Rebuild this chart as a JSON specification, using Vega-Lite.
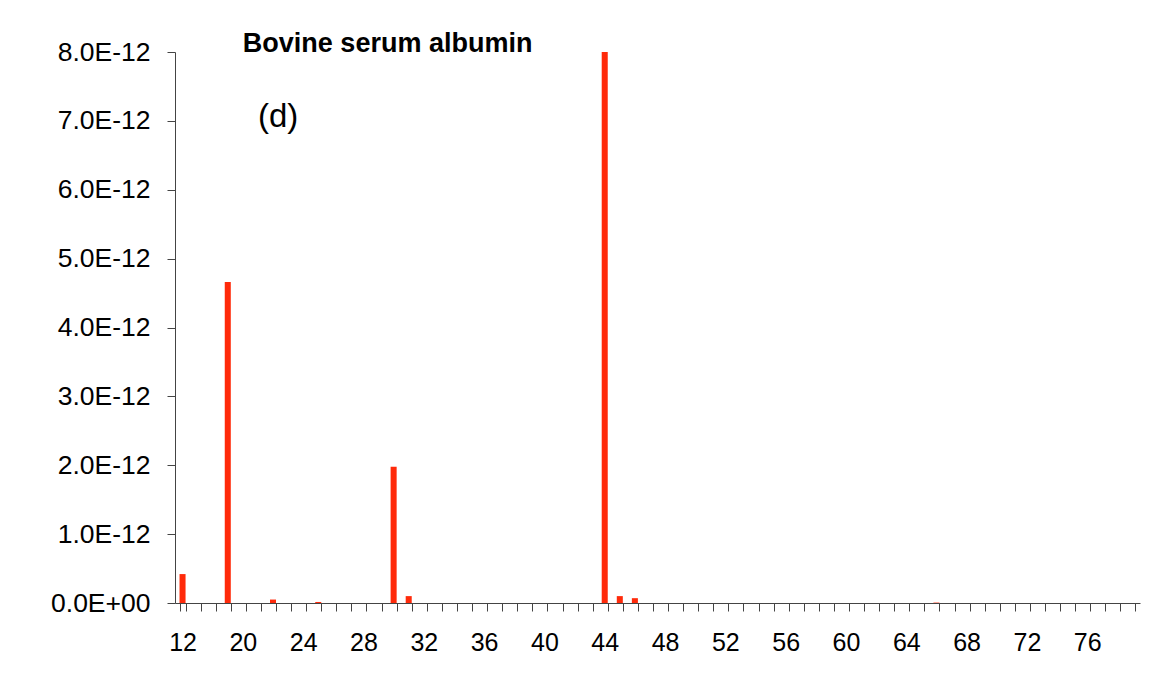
{
  "$schema": "https://vega.github.io/schema/vega-lite/v6.json",
  "width": 965,
  "height": 551,
  "autosize": "none",
  "padding": {"left": 175, "top": 52, "right": 11, "bottom": 86},
  "background": "white",
  "config": {
    "view": {"stroke": null},
    "font": "Liberation Sans",
    "axis": {"labelFont": "Liberation Sans", "labelColor": "#000000", "domainColor": "#444444", "tickColor": "#444444", "grid": false, "title": null}
  },
  "datasets": {
    "bars": [
      {"mz": "12", "v": 4.2e-13},
      {"mz": "14", "v": 0},
      {"mz": "16", "v": 0},
      {"mz": "18", "v": 4.66e-12},
      {"mz": "20", "v": 0},
      {"mz": "21", "v": 0},
      {"mz": "22", "v": 5e-14},
      {"mz": "23", "v": 0},
      {"mz": "24", "v": 0},
      {"mz": "25", "v": 1.5e-14},
      {"mz": "26", "v": 0},
      {"mz": "27", "v": 0},
      {"mz": "28", "v": 0},
      {"mz": "29", "v": 0},
      {"mz": "30", "v": 1.98e-12},
      {"mz": "31", "v": 1e-13},
      {"mz": "32", "v": 0},
      {"mz": "33", "v": 0},
      {"mz": "34", "v": 0},
      {"mz": "35", "v": 0},
      {"mz": "36", "v": 0},
      {"mz": "37", "v": 0},
      {"mz": "38", "v": 0},
      {"mz": "39", "v": 0},
      {"mz": "40", "v": 0},
      {"mz": "41", "v": 0},
      {"mz": "42", "v": 0},
      {"mz": "43", "v": 0},
      {"mz": "44", "v": 8.0e-12},
      {"mz": "45", "v": 1e-13},
      {"mz": "46", "v": 7e-14},
      {"mz": "47", "v": 0},
      {"mz": "48", "v": 0},
      {"mz": "49", "v": 0},
      {"mz": "50", "v": 0},
      {"mz": "51", "v": 0},
      {"mz": "52", "v": 0},
      {"mz": "53", "v": 0},
      {"mz": "54", "v": 0},
      {"mz": "55", "v": 0},
      {"mz": "56", "v": 0},
      {"mz": "57", "v": 0},
      {"mz": "58", "v": 0},
      {"mz": "59", "v": 0},
      {"mz": "60", "v": 0},
      {"mz": "61", "v": 0},
      {"mz": "62", "v": 0},
      {"mz": "63", "v": 0},
      {"mz": "64", "v": 0},
      {"mz": "65", "v": 0},
      {"mz": "66", "v": 6e-15},
      {"mz": "67", "v": 0},
      {"mz": "68", "v": 0},
      {"mz": "69", "v": 0},
      {"mz": "70", "v": 0},
      {"mz": "71", "v": 0},
      {"mz": "72", "v": 0},
      {"mz": "73", "v": 0},
      {"mz": "74", "v": 0},
      {"mz": "75", "v": 0},
      {"mz": "76", "v": 0},
      {"mz": "77", "v": 0},
      {"mz": "78", "v": 0},
      {"mz": "79", "v": 0}
    ],
    "notes": [
      {"mz": "20", "v": 8.12e-12, "label": "Bovine serum albumin", "kind": "title"},
      {"mz": "21", "v": 7.06e-12, "label": "(d)", "kind": "panel"}
    ]
  },
  "layer": [
    {
      "data": {"name": "bars"},
      "mark": {"type": "bar", "color": "#ff2a0a"},
      "encoding": {
        "x": {
          "field": "mz", "type": "ordinal", "sort": null,
          "scale": {"paddingInner": 0.6, "paddingOuter": 0.3},
          "axis": {
            "tickBand": "extent",
            "tickSize": 8,
            "labelFontSize": 25,
            "labelPadding": 19,
            "labelAngle": 0,
            "labelOverlap": false,
            "labelExpr": "datum.value == '12' || (toNumber(datum.value) >= 20 && toNumber(datum.value) % 4 == 0) ? datum.value : ''"
          }
        },
        "y": {
          "field": "v", "type": "quantitative",
          "scale": {"domain": [0, 8e-12], "nice": false},
          "axis": {
            "values": [0, 1e-12, 2e-12, 3e-12, 4e-12, 5e-12, 6e-12, 7e-12, 8e-12],
            "tickSize": 8,
            "labelFontSize": 26.5,
            "labelPadding": 17,
            "labelExpr": "datum.value == 0 ? '0.0E+00' : format(datum.value * 1e12, '.1f') + 'E-12'"
          }
        }
      }
    },
    {
      "data": {"name": "notes"},
      "transform": [{"filter": "datum.kind == 'title'"}],
      "mark": {"type": "text", "align": "left", "baseline": "middle", "fontWeight": "bold", "fontSize": 27, "color": "#000000"},
      "encoding": {
        "x": {"field": "mz", "type": "ordinal", "sort": null},
        "y": {"field": "v", "type": "quantitative"},
        "text": {"field": "label"}
      }
    },
    {
      "data": {"name": "notes"},
      "transform": [{"filter": "datum.kind == 'panel'"}],
      "mark": {"type": "text", "align": "left", "baseline": "middle", "fontSize": 33, "color": "#000000"},
      "encoding": {
        "x": {"field": "mz", "type": "ordinal", "sort": null},
        "y": {"field": "v", "type": "quantitative"},
        "text": {"field": "label"}
      }
    }
  ]
}
